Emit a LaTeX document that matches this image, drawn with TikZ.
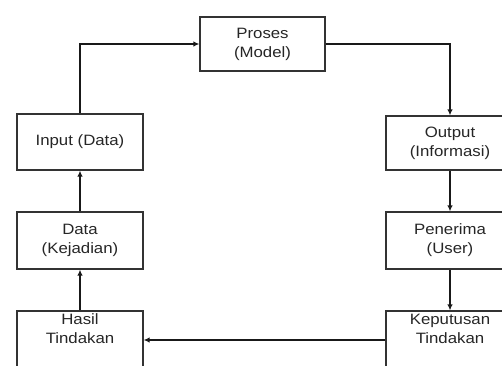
\documentclass[tikz,border=0pt]{standalone}
\usepackage{fontspec}
\setmainfont{Liberation Sans}[FakeStretch=1.12]
\usetikzlibrary{arrows.meta}
\begin{document}
\begin{tikzpicture}[x=1pt,y=-1pt,
  txt/.style={font=\fontsize{15}{19}\selectfont, align=center, text=black!85},
  box/.style={draw=black!80, line width=1.2pt, fill=white, minimum width=126pt,
              inner sep=0pt, txt},
  conn/.style={draw=black!90, line width=1.6pt, -{Latex[length=6pt,width=5.5pt]}}]
\useasboundingbox (0,0) rectangle (502,365);
\node[box, minimum width=125pt, minimum height=54pt] (proses) at (262.5,44) {Proses\\(Model)};
\node[box, minimum height=56pt] (input) at (80,142) {Input (Data)};
\node[box, minimum width=128pt, minimum height=54pt] (output) at (450,143) {Output\\(Informasi)};
\node[box, minimum height=57pt] (data) at (80,240.5) {Data\\(Kejadian)};
\node[box, minimum width=128pt, minimum height=57pt] (penerima) at (450,240.5) {Penerima\\(User)};
\node[box, minimum height=64pt,
      label={[anchor=north, inner sep=0pt, yshift=-3.5pt, txt]north:Hasil\\Tindakan}] (hasil) at (80,343) {};
\node[box, minimum width=128pt, minimum height=64pt,
      label={[anchor=north, inner sep=0pt, yshift=-3.5pt, txt]north:Keputusan\\Tindakan}] (keputusan) at (450,343) {};
\draw[conn] (input.north) |- (proses.west);
\draw[conn] (proses.east) -| (output.north);
\draw[conn] (output.south) -- (penerima.north);
\draw[conn] (penerima.south) -- (keputusan.north);
\draw[conn] ([yshift=3pt]keputusan.west) -- ([yshift=3pt]hasil.east);
\draw[conn] (hasil.north) -- (data.south);
\draw[conn] (data.north) -- (input.south);
\end{tikzpicture}
\end{document}
